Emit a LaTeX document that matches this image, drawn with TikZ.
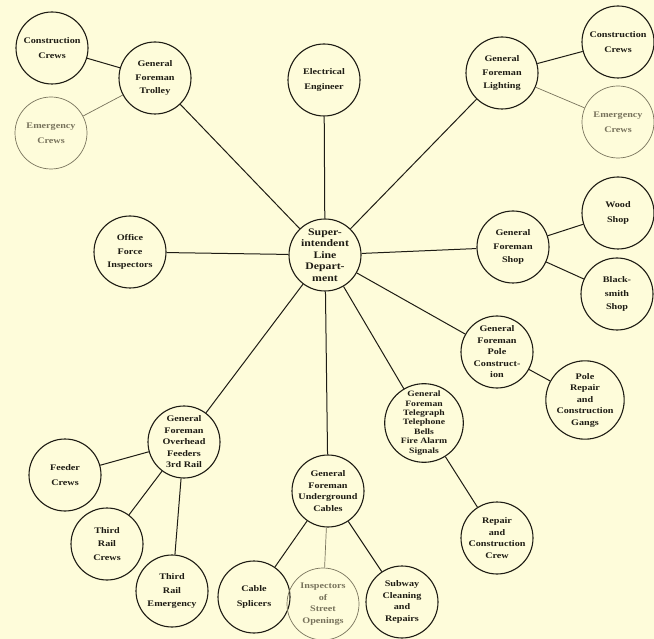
\documentclass[tikz,border=0pt]{standalone}
\usepackage{fontspec}
\setmainfont[FakeStretch=1.18]{Liberation Serif}
\definecolor{paper}{RGB}{254,252,218}
\definecolor{ink}{RGB}{30,28,20}
\definecolor{faded}{RGB}{120,115,92}
\begin{document}
\begin{tikzpicture}[x=1pt,y=-1pt,
  unit/.style={circle,draw=ink,line width=1.1pt,inner sep=0pt,minimum size=72pt,
    align=center,font=\fontsize{8.6}{13.5}\selectfont\bfseries,text=ink},
  dense/.style={font=\fontsize{8.6}{11.5}\selectfont\bfseries},
  denser/.style={font=\fontsize{8.2}{9.4}\selectfont\bfseries},
  pale/.style={draw=faded,line width=0.7pt,text=faded},
  boss/.style={font=\fontsize{10}{11.6}\selectfont\bfseries},
  link/.style={draw=ink,line width=1pt},
  palelink/.style={draw=faded,line width=0.7pt}]
\fill[paper] (0,0) rectangle (654,639);
\useasboundingbox (0,0) rectangle (654,639);

\node[unit,boss] (sup) at (325,255) {Super-\\intendent\\Line\\Depart-\\ment};
\node[unit] (trol) at (155,78) {General\\Foreman\\Trolley};
\node[unit] (cc1) at (52,48) {Construction\\[2pt]Crews};
\node[unit,pale] (ec1) at (51,133) {Emergency\\[2pt]Crews};
\node[unit] (elec) at (324,80) {Electrical\\[2pt]Engineer};
\node[unit] (light) at (502,73) {General\\Foreman\\Lighting};
\node[unit] (cc2) at (618,42) {Construction\\[2pt]Crews};
\node[unit,pale] (ec2) at (618,122) {Emergency\\[2pt]Crews};
\node[unit] (off) at (130,252) {Office\\Force\\Inspectors};
\node[unit] (shop) at (513,247) {General\\Foreman\\Shop};
\node[unit] (wood) at (618,213) {Wood\\[2pt]Shop};
\node[unit] (black) at (617,294) {Black-\\smith\\Shop};
\node[unit,dense] (pole) at (497,352) {General\\Foreman\\Pole\\Construct-\\ion};
\node[unit,dense] (prep) at (585,400) {Pole\\Repair\\and\\Construction\\Gangs};
\node[unit,denser] (tele) at (424,423) {General\\Foreman\\Telegraph\\Telephone\\Bells\\Fire Alarm\\Signals};
\node[unit,dense] (rcc) at (497,538) {Repair\\and\\Construction\\Crew};
\node[unit,dense] (ug) at (328,491) {General\\Foreman\\Underground\\Cables};
\node[unit] (cab) at (254,597) {Cable\\[2pt]Splicers};
\node[unit,dense,pale] (insp) at (323,604) {Inspectors\\of\\Street\\Openings};
\node[unit,dense] (sub) at (402,602) {Subway\\Cleaning\\and\\Repairs};
\node[unit,dense] (ovh) at (184,442) {General\\Foreman\\Overhead\\Feeders\\3rd Rail};
\node[unit] (feed) at (65,475) {Feeder\\[2pt]Crews};
\node[unit] (trc) at (107,544) {Third\\Rail\\Crews};
\node[unit] (tre) at (172,591) {Third\\Rail\\Emergency};

\foreach \n in {trol,elec,light,off,shop,pole,tele,ug,ovh}
  \draw[link] (sup) -- (\n);
\draw[link] (trol) -- (cc1);
\draw[palelink] (trol) -- (ec1);
\draw[link] (light) -- (cc2);
\draw[palelink] (light) -- (ec2);
\draw[link] (shop) -- (wood);
\draw[link] (shop) -- (black);
\draw[link] (pole) -- (prep);
\draw[link] (tele) -- (rcc);
\draw[link] (ug) -- (cab);
\draw[palelink] (ug) -- (insp);
\draw[link] (ug) -- (sub);
\draw[link] (ovh) -- (feed);
\draw[link] (ovh) -- (trc);
\draw[link] (ovh) -- (tre);
\end{tikzpicture}
\end{document}
